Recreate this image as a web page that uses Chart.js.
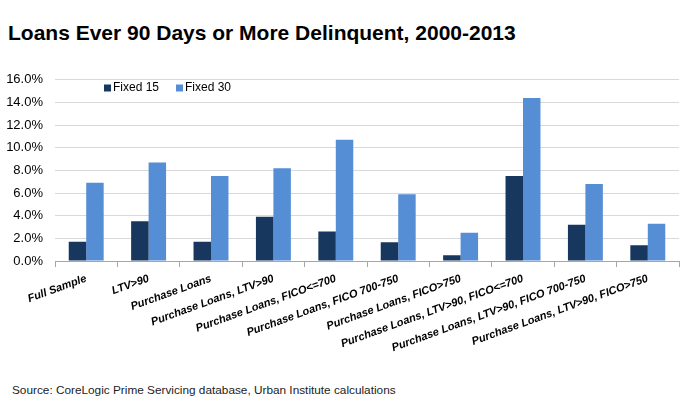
<!DOCTYPE html>
<html>
<head>
<meta charset="utf-8">
<script src="https://cdn.jsdelivr.net/npm/chart.js@4.4.0/dist/chart.umd.min.js"></script>
<style>
  html, body { margin: 0; padding: 0; background: #fff; }
  body { width: 685px; height: 415px; position: relative; overflow: hidden; font-family: "Liberation Sans", Arial, sans-serif; }
  #title { position: absolute; left: 8px; top: 20px; font-size: 21px; line-height: 25px; font-weight: bold; color: #000; white-space: nowrap; }
  #source { position: absolute; left: 12px; top: 383px; font-size: 11.8px; line-height: 14px; color: #222; white-space: nowrap; }
  #wrap { position: absolute; left: 0; top: 60px; width: 685px; height: 300px; }
</style>
</head>
<body>
<div id="title">Loans Ever 90 Days or More Delinquent, 2000-2013</div>
<div id="wrap"><canvas id="c"></canvas></div>
<div id="source">Source: CoreLogic Prime Servicing database, Urban Institute calculations</div>
<script>
const categories = [
  "Full Sample",
  "LTV>90",
  "Purchase Loans",
  "Purchase Loans, LTV>90",
  "Purchase Loans, FICO<=700",
  "Purchase Loans, FICO 700-750",
  "Purchase Loans, FICO>750",
  "Purchase Loans, LTV>90, FICO<=700",
  "Purchase Loans, LTV>90, FICO 700-750",
  "Purchase Loans, LTV>90, FICO>750"
];
const fixed15 = [1.7, 3.5, 1.7, 3.9, 2.6, 1.65, 0.5, 7.5, 3.2, 1.4];
const fixed30 = [6.9, 8.7, 7.5, 8.2, 10.7, 5.9, 2.5, 14.4, 6.8, 3.3];
const seriesNames = ["Fixed 15", "Fixed 30"];
const seriesColors = ["#17375E", "#558ED5"];
const yTicks = [0, 2, 4, 6, 8, 10, 12, 14, 16];

const legendPlugin = {
  id: 'insideLegend',
  afterDraw(chart) {
    const ctx = chart.ctx;
    ctx.save();
    ctx.font = '12px "Liberation Sans", Arial, sans-serif';
    ctx.textBaseline = 'middle';
    const starts = [104, 176];
    chart.data.datasets.forEach((ds, i) => {
      const x = starts[i], y = 28;
      ctx.fillStyle = ds.backgroundColor;
      ctx.fillRect(x, y - 3.5, 7, 7);
      ctx.fillStyle = '#000';
      ctx.fillText(ds.label, x + 9, y);
    });
    ctx.restore();
  }
};

new Chart(document.getElementById('c'), {
  type: 'bar',
  data: {
    labels: categories,
    datasets: [
      { label: seriesNames[0], data: fixed15, backgroundColor: seriesColors[0], categoryPercentage: 0.56, barPercentage: 1.0 },
      { label: seriesNames[1], data: fixed30, backgroundColor: seriesColors[1], categoryPercentage: 0.56, barPercentage: 1.0 }
    ]
  },
  options: {
    responsive: true,
    maintainAspectRatio: false,
    animation: false,
    devicePixelRatio: 1,
    layout: { padding: { left: 0, right: 6, top: 16, bottom: 0 } },
    plugins: { legend: { display: false }, tooltip: { enabled: false } },
    scales: {
      x: {
        offset: true,
        grid: { display: true, drawOnChartArea: false, drawTicks: true, tickLength: 6, offset: true, color: '#a6a6a6' },
        border: { display: true, color: '#a6a6a6' },
        ticks: {
          minRotation: 20, maxRotation: 20, autoSkip: false, padding: 5,
          color: '#000',
          font: { family: '"Liberation Sans", Arial, sans-serif', size: 11, weight: 'bold', style: 'italic' }
        },
        afterFit(scale) { scale.height = 99; }
      },
      y: {
        min: 0, max: 16,
        afterBuildTicks(scale) { scale.ticks = yTicks.map(v => ({ value: v })); },
        grid: { color: '#d9d9d9', drawTicks: false },
        border: { display: false },
        ticks: {
          padding: 12, color: '#000',
          font: { family: '"Liberation Sans", Arial, sans-serif', size: 13 },
          callback: v => v.toFixed(1) + '%'
        },
        afterFit(scale) { scale.width = 55; }
      }
    }
  },
  plugins: [legendPlugin]
});
</script>
</body>
</html>
